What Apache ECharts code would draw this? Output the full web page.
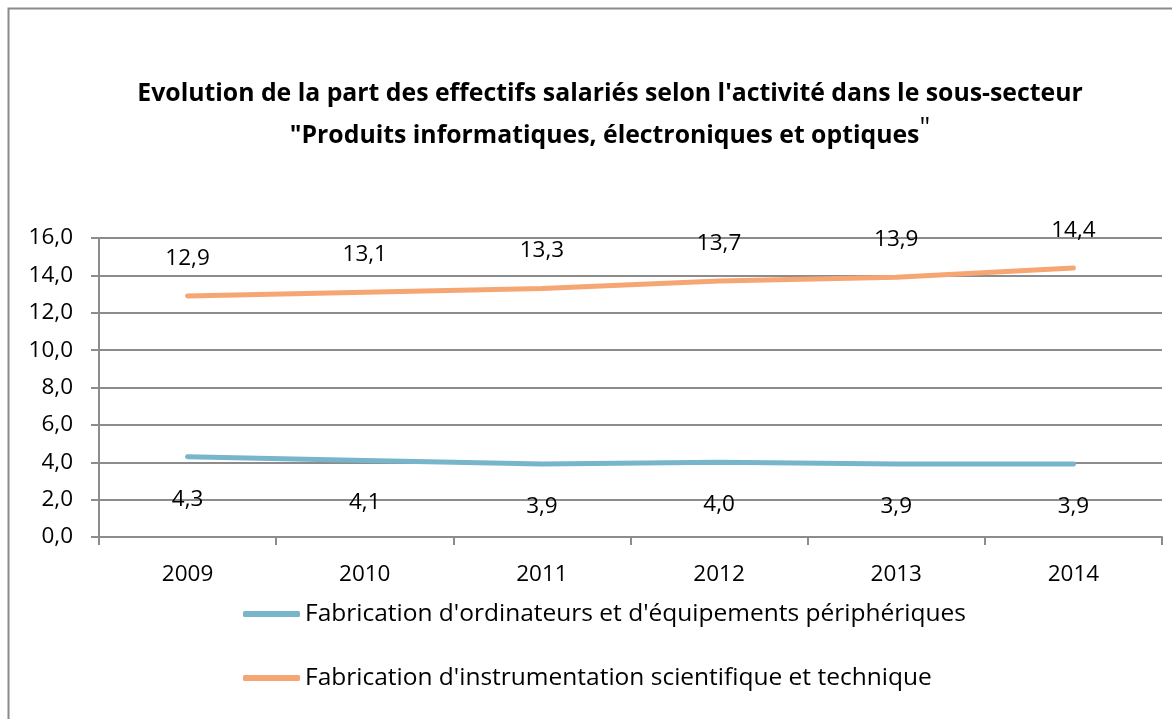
<!DOCTYPE html>
<html>
<head>
<meta charset="utf-8">
<script src="https://cdn.jsdelivr.net/npm/echarts@6/dist/echarts.min.js"></script>
<style>
  html, body { margin: 0; padding: 0; background: #fff; }
  #chart { width: 1172px; height: 719px; }
</style>
</head>
<body>
<div id="chart"></div>
<script>
let years = ["2009", "2010", "2011", "2012", "2013", "2014"];
let ordinateurs = [4.3, 4.1, 3.9, 4.0, 3.9, 3.9];
let instrumentation = [12.9, 13.1, 13.3, 13.7, 13.9, 14.4];
let names = ["Fabrication d'ordinateurs et d'équipements périphériques", "Fabrication d'instrumentation scientifique et technique"];
let colors = ["#77B5CB", "#F6A673"];
let font = "Open Sans";
let grey = "#8c8c8c";

let fmt = function (v) {
  return Number(v).toFixed(1).replace(".", ",");
};

let chart = echarts.init(document.getElementById("chart"), null, { renderer: "canvas" });
chart.setOption({
  backgroundColor: "#ffffff",
  animation: false,
  color: colors,
  graphic: [{
    type: "rect",
    shape: { x: 8.5, y: 8.5, width: 1300, height: 900 },
    style: { fill: null, stroke: "#8a8a8a", lineWidth: 2 },
    silent: true
  }],
  title: {
    text: "{b|Evolution de la part des effectifs salariés selon l'activité dans le sous-secteur}\n{b|\"Produits informatiques, électroniques et optiques}{q|\"}",
    left: 610,
    top: 73,
    padding: 0,
    textAlign: "center",
    textStyle: {
      rich: {
        b: { fontFamily: font, fontWeight: "bold", fontSize: 24.8, lineHeight: 42, color: "#000" },
        q: { fontFamily: font, fontWeight: "normal", fontSize: 27, lineHeight: 42, color: "#000", padding: [0, 0, 14, 0] }
      }
    }
  },
  grid: { left: 99, right: 10, top: 238, bottom: 182 },
  legend: {
    orient: "vertical",
    left: 243,
    top: 599,
    padding: 0,
    icon: "roundRect",
    itemWidth: 57,
    itemHeight: 6,
    itemGap: 34,
    textStyle: { fontFamily: font, fontSize: 24.5, lineHeight: 30, color: "#000", padding: [0, 0, 0, 0] },
    data: names
  },
  xAxis: {
    type: "category",
    data: years,
    boundaryGap: true,
    axisLine: { lineStyle: { color: grey, width: 2 } },
    axisTick: { show: true, length: 8, lineStyle: { color: grey, width: 2 } },
    axisLabel: { fontFamily: font, fontSize: 22.5, color: "#000", margin: 26 }
  },
  yAxis: {
    type: "value",
    min: 0,
    max: 16,
    interval: 2,
    axisLine: { show: true, lineStyle: { color: grey, width: 2 } },
    axisTick: { show: true, length: 8, lineStyle: { color: grey, width: 2 } },
    axisLabel: { fontFamily: font, fontSize: 22.5, color: "#000", margin: 26, formatter: fmt },
    splitLine: { lineStyle: { color: grey, width: 2 } }
  },
  series: [{
    name: names[0],
    type: "line",
    data: ordinateurs,
    symbol: "circle",
    symbolSize: 2,
    showSymbol: true,
    lineStyle: { width: 5, cap: "round" },
    label: {
      show: true,
      position: "bottom",
      distance: 30,
      fontFamily: font,
      fontSize: 22.5,
      color: "#000",
      formatter: function (p) { return fmt(p.value); }
    }
  }, {
    name: names[1],
    type: "line",
    data: instrumentation,
    symbol: "circle",
    symbolSize: 2,
    showSymbol: true,
    lineStyle: { width: 5, cap: "round" },
    label: {
      show: true,
      position: "top",
      distance: 25,
      fontFamily: font,
      fontSize: 22.5,
      color: "#000",
      formatter: function (p) { return fmt(p.value); }
    }
  }]
});
</script>
</body>
</html>
